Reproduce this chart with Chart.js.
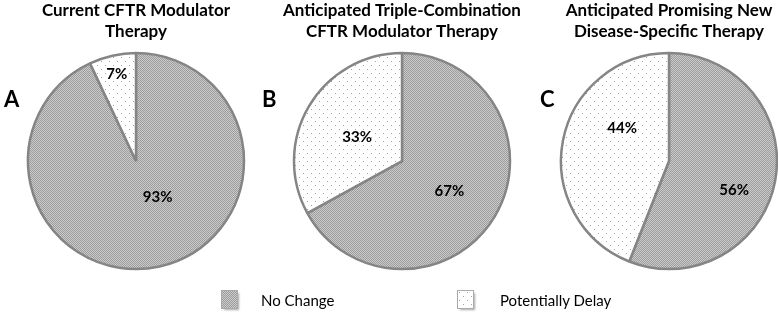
<!DOCTYPE html>
<html><head><meta charset="utf-8">
<script src="https://cdn.jsdelivr.net/npm/chart.js@4.4.1/dist/chart.umd.min.js"></script>
<style>
html,body{margin:0;padding:0;background:#fff;width:778px;height:313px;overflow:hidden;position:relative;font-family:Lato,sans-serif}
canvas.pie{position:absolute;top:0}
.letter{position:absolute;font:bold 22px Lato;line-height:22px;color:#000}
.leg{position:absolute;top:291px;font:15px Lato;line-height:18px;color:#000;white-space:nowrap}
.sw{position:absolute;top:291px;width:15px;height:17px;box-shadow:2px 2px 2px rgba(0,0,0,0.35);outline:1px solid #aaa}
</style></head><body>
<canvas class="pie" id="c0" width="272" height="313" style="left:0px"></canvas>
<canvas class="pie" id="c1" width="272" height="313" style="left:266px"></canvas>
<canvas class="pie" id="c2" width="272" height="313" style="left:533px"></canvas>
<div class="letter" style="left:4px;top:88px">A</div>
<div class="letter" style="left:262px;top:88px">B</div>
<div class="letter" style="left:540px;top:88px">C</div>
<div class="sw" id="sw0" style="left:222px"></div>
<div class="leg" style="left:261px">No Change</div>
<div class="sw" id="sw1" style="left:458px"></div>
<div class="leg" style="left:500px">Potentially Delay</div>
<script>
// ---- data ----
const categories = ['No Change', 'Potentially Delay'];
const panelLetters = ['A', 'B', 'C'];
const panelTitles = [
  ['Current CFTR Modulator', 'Therapy'],
  ['Anticipated Triple-Combination', 'CFTR Modulator Therapy'],
  ['Anticipated Promising New', 'Disease-Specific Therapy']
];
const noChange = [93, 67, 56];
const potentiallyDelay = [7, 33, 44];

// ---- patterns ----
function makeTile(w, h, bg, dots) {
  const c = document.createElement('canvas');
  c.width = w; c.height = h;
  const x = c.getContext('2d');
  x.fillStyle = bg; x.fillRect(0, 0, w, h);
  dots.forEach(d => { x.fillStyle = d[2]; x.fillRect(d[0], d[1], 1, 1); });
  return c;
}
const tileNo = makeTile(2, 2, '#cbcbcb', [[0,0,'#9c9c9c'],[1,1,'#9c9c9c']]);
const tileDelay = makeTile(8, 8, '#ffffff', [[1,1,'#a2a2a2'],[5,5,'#a2a2a2']]);
const tmpCtx = document.createElement('canvas').getContext('2d');
const patNo = tmpCtx.createPattern(tileNo, 'repeat');
const patDelay = tmpCtx.createPattern(tileDelay, 'repeat');
document.getElementById('sw0').style.background = 'url(' + tileNo.toDataURL() + ')';
document.getElementById('sw1').style.background = 'url(' + tileDelay.toDataURL() + ')';

// label placement (angle clockwise from 12 o'clock, fraction of radius)
const labelPlace = [
  [[149, 0.39], [347.5, 0.82]],
  [[122.5, 0.52], [298, 0.47]],
  [[114, 0.66], [305, 0.53]]
];

const pctLabels = {
  id: 'pctLabels',
  afterDatasetsDraw(chart, args, opts) {
    const meta = chart.getDatasetMeta(0);
    const ctx = chart.ctx;
    ctx.save();
    ctx.font = 'bold 15px Lato';
    ctx.fillStyle = '#000';
    ctx.textAlign = 'center';
    ctx.textBaseline = 'middle';
    meta.data.forEach((arc, j) => {
      const p = opts.place[j];
      const a = (p[0] - 90) * Math.PI / 180;
      const r = arc.outerRadius * p[1];
      ctx.fillText(chart.data.datasets[0].data[j] + '%', arc.x + r * Math.cos(a), arc.y + r * Math.sin(a));
    });
    ctx.restore();
  }
};

for (let i = 0; i < 3; i++) {
  new Chart(document.getElementById('c' + i), {
    type: 'pie',
    data: {
      labels: categories,
      datasets: [{
        data: [noChange[i], potentiallyDelay[i]],
        backgroundColor: [patNo, patDelay],
        borderColor: '#858585',
        borderWidth: 2.5
      }]
    },
    options: {
      responsive: false,
      animation: false,
      radius: 108,
      layout: { padding: { top: 0, bottom: 39, left: 0, right: 0 } },
      plugins: {
        legend: { display: false },
        tooltip: { enabled: false },
        title: {
          display: true,
          text: panelTitles[i],
          color: '#000',
          font: { family: 'Lato', weight: 'bold', size: 17, lineHeight: 1.24 },
          padding: { top: 0, bottom: 6 }
        },
        pctLabels: { place: labelPlace[i] }
      }
    },
    plugins: [pctLabels]
  });
}
</script>
</body></html>
